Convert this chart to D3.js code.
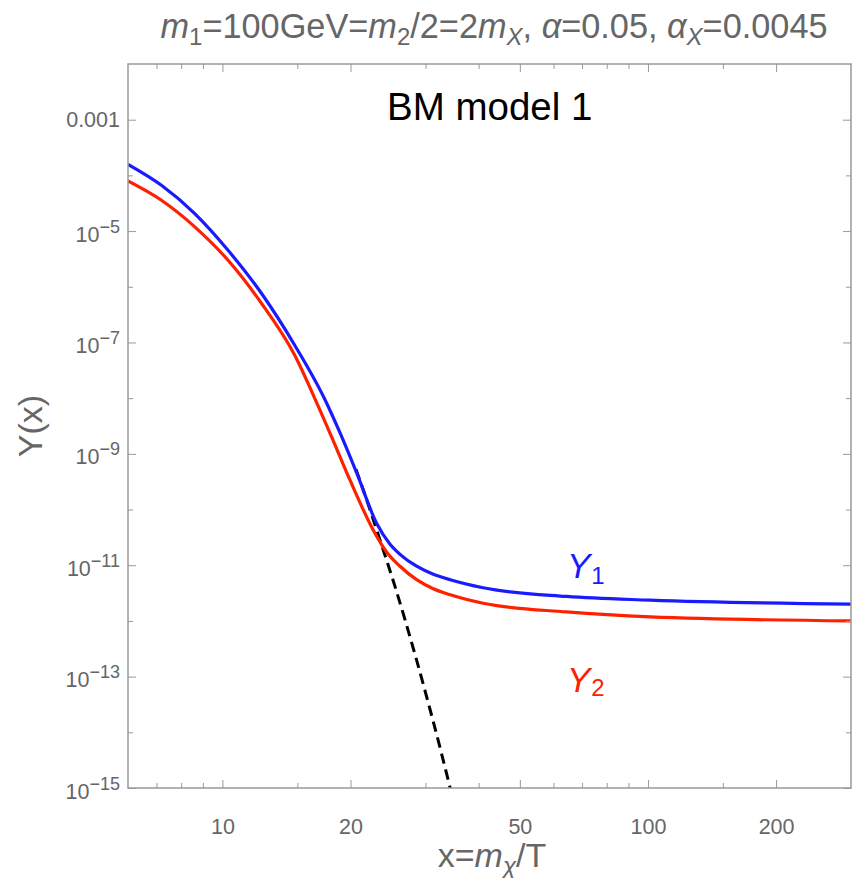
<!DOCTYPE html>
<html><head><meta charset="utf-8">
<script src="https://cdn.jsdelivr.net/npm/d3@7"></script>
<style>body{margin:0;background:#fff} svg{display:block}</style>
</head><body><svg id="c" width="852" height="878"></svg>
<script>
// ---- data ----
const xY1 = [6, 7.19, 8.61, 10.31, 12.35, 14.79, 17.4, 19.0, 20.69, 23.05, 24.77, 26.14, 28.6, 31.3, 34.3, 41.0, 64.4, 101.2, 300];
const valY1 = [1.58e-4, 6.64e-5, 2.06e-5, 4.52e-6, 7.64e-7, 8.91e-8, 9.55e-9, 2.16e-9, 4.49e-10, 5.61e-11, 2.38e-11, 1.57e-11, 9.59e-12, 6.89e-12, 5.50e-12, 3.94e-12, 2.75e-12, 2.36e-12, 2.0e-12];
const xY2 = [6, 7.19, 8.61, 10.31, 12.35, 14.79, 16.64, 18.2, 19.95, 22.63, 24.33, 26.14, 28.6, 31.3, 34.3, 41.0, 64.4, 101.2, 300];
const valY2 = [7.94e-5, 3.57e-5, 1.19e-5, 2.99e-6, 5.06e-7, 5.89e-8, 8.43e-9, 1.75e-9, 3.36e-10, 4.25e-11, 1.71e-11, 9.59e-12, 5.50e-12, 3.78e-12, 2.95e-12, 2.08e-12, 1.45e-12, 1.18e-12, 1.0e-12];
const xEq = [20.6, 21.44, 23.89, 25.22, 28.6, 34.3, 35.2];
const valEq = [5.28e-10, 2.22e-10, 1.86e-11, 5.15e-12, 1.97e-13, 9.9e-16, 4.4e-16];
const xMajorTicks = [10, 20, 50, 100, 200];
const xMinorTicks = [7, 8, 9, 15, 30, 40, 60, 70, 80, 90, 150];
const yMajorExp = [-15, -13, -11, -9, -7, -5, -3];
const yMinorExp = [-14, -12, -10, -8, -6, -4];
const xDomain = [6, 300];
const yDomain = [1e-15, 1e-2];

const FONT = "'Liberation Sans', Arial, Helvetica, sans-serif";
const GRAY = "#666";
const FRAME = "#999";
const svg = d3.select("#c");
const L = 128, T = 64, W = 723, H = 724;
const x = d3.scaleLog().domain(xDomain).range([L, L + W]);
const y = d3.scaleLog().domain(yDomain).range([T + H, T]);

svg.append("defs").append("clipPath").attr("id", "clip")
  .append("rect").attr("x", L).attr("y", T).attr("width", W).attr("height", H);

const plot = svg.append("g").attr("clip-path", "url(#clip)");
const line = d3.line().x(d => x(d[0])).y(d => y(d[1])).curve(d3.curveMonotoneX);

plot.append("path").datum(xEq.map((v, i) => [v, valEq[i]]))
  .attr("d", line).attr("fill", "none").attr("stroke", "#000")
  .attr("stroke-width", 3).attr("stroke-dasharray", "10.5,6");
plot.append("path").datum(xY2.map((v, i) => [v, valY2[i]]))
  .attr("d", line).attr("fill", "none").attr("stroke", "#ff2000").attr("stroke-width", 3.2);
plot.append("path").datum(xY1.map((v, i) => [v, valY1[i]]))
  .attr("d", line).attr("fill", "none").attr("stroke", "#1a1aff").attr("stroke-width", 3.2);

// frame
svg.append("rect").attr("x", L).attr("y", T).attr("width", W).attr("height", H)
  .attr("fill", "none").attr("stroke", FRAME).attr("stroke-width", 1.5);

function styleAxis(g) {
  g.select(".domain").remove();
  g.selectAll(".tick line").attr("stroke", FRAME).attr("stroke-width", 1);
}
// x axes (bottom with labels, top mirrored)
const xMaj = d3.axisBottom(x).tickValues(xMajorTicks).tickSizeInner(-8).tickSizeOuter(0).tickFormat(d3.format("d")).tickPadding(31);
const xMin = d3.axisBottom(x).tickValues(xMinorTicks).tickSizeInner(-5).tickSizeOuter(0).tickFormat("");
const gxb = svg.append("g").attr("transform", `translate(0,${T + H})`).call(xMaj).call(styleAxis);
gxb.selectAll("text").attr("font-family", FONT).attr("font-size", 21.5).attr("fill", GRAY).attr("dy", "0.71em");
svg.append("g").attr("transform", `translate(0,${T + H})`).call(xMin).call(styleAxis);
svg.append("g").attr("transform", `translate(0,${T})`).call(d3.axisTop(x).tickValues(xMajorTicks).tickSizeInner(-8).tickSizeOuter(0).tickFormat("")).call(styleAxis);
svg.append("g").attr("transform", `translate(0,${T})`).call(d3.axisTop(x).tickValues(xMinorTicks).tickSizeInner(-5).tickSizeOuter(0).tickFormat("")).call(styleAxis);

// y axes
const yMajVals = yMajorExp.map(e => Math.pow(10, e));
const yMinVals = yMinorExp.map(e => Math.pow(10, e));
svg.append("g").attr("transform", `translate(${L},0)`)
  .call(d3.axisLeft(y).tickValues(yMajVals).tickSizeInner(-8).tickSizeOuter(0).tickFormat("")).call(styleAxis);
svg.append("g").attr("transform", `translate(${L},0)`)
  .call(d3.axisLeft(y).tickValues(yMinVals).tickSizeInner(-5).tickSizeOuter(0).tickFormat("")).call(styleAxis);
svg.append("g").attr("transform", `translate(${L + W},0)`)
  .call(d3.axisRight(y).tickValues(yMajVals).tickSizeInner(-8).tickSizeOuter(0).tickFormat("")).call(styleAxis);
svg.append("g").attr("transform", `translate(${L + W},0)`)
  .call(d3.axisRight(y).tickValues(yMinVals).tickSizeInner(-5).tickSizeOuter(0).tickFormat("")).call(styleAxis);

// y tick labels
yMajorExp.forEach(e => {
  const yy = y(Math.pow(10, e));
  const t = svg.append("text").attr("x", L - 8).attr("text-anchor", "end")
    .attr("font-family", FONT).attr("font-size", 21.5).attr("fill", GRAY);
  if (e === -3) {
    t.attr("y", yy + 7).text("0.001");
  } else {
    t.attr("y", yy + 10.6);
    t.append("tspan").text("10");
    t.append("tspan").attr("font-size", 18).attr("dy", -9).text("\u2212" + (-e));
  }
});

// axis labels
svg.append("text").attr("transform", `translate(42,${T + H / 2}) rotate(-90)`)
  .attr("text-anchor", "middle").attr("font-family", FONT).attr("font-size", 34).attr("fill", GRAY)
  .text("Y(x)");
const xl = svg.append("text").attr("x", 492).attr("y", 867).attr("text-anchor", "middle")
  .attr("font-family", FONT).attr("font-size", 34).attr("fill", GRAY);
xl.append("tspan").text("x=");
xl.append("tspan").attr("font-style", "italic").text("m");
xl.append("tspan").attr("font-style", "italic").attr("font-size", 24).attr("dy", 7).text("\u03c7");
xl.append("tspan").attr("dy", -7).text("/T");

// title
const tt = svg.append("text").attr("x", 494).attr("y", 38).attr("text-anchor", "middle")
  .attr("font-family", FONT).attr("font-size", 34.3).attr("fill", GRAY);
function part(txt, opt) {
  const s = tt.append("tspan").text(txt);
  if (opt && opt.it) s.attr("font-style", "italic");
  if (opt && opt.sub) s.attr("font-size", 24).attr("dy", opt.dy);
  else if (opt && opt.dy) s.attr("dy", opt.dy);
  return s;
}
part("m", {it: 1}); part("1", {sub: 1, dy: 7}); part("=100GeV=", {dy: -7});
part("m", {it: 1}); part("2", {sub: 1, dy: 7}); part("/2=2", {dy: -7});
part("m", {it: 1}); part("X", {sub: 1, it: 1, dy: 7}); part(", ", {dy: -7});
part("\u03b1", {it: 1}); part("=0.05, ");
part("\u03b1", {it: 1}); part("X", {sub: 1, it: 1, dy: 7}); part("=0.0045", {dy: -7});

// annotations
svg.append("text").attr("x", 387).attr("y", 120).attr("font-family", FONT).attr("font-size", 38.5)
  .attr("fill", "#000").text("BM model 1");
const y1 = svg.append("text").attr("x", 567).attr("y", 578).attr("font-family", FONT).attr("font-size", 35).attr("fill", "#1a1aff");
y1.append("tspan").attr("font-style", "italic").text("Y");
y1.append("tspan").attr("font-size", 24).attr("dy", 6).attr("dx", 1).text("1");
const y2 = svg.append("text").attr("x", 567).attr("y", 692).attr("font-family", FONT).attr("font-size", 35).attr("fill", "#ff2000");
y2.append("tspan").attr("font-style", "italic").text("Y");
y2.append("tspan").attr("font-size", 24).attr("dy", 4).attr("dx", 1).text("2");
</script></body></html>
